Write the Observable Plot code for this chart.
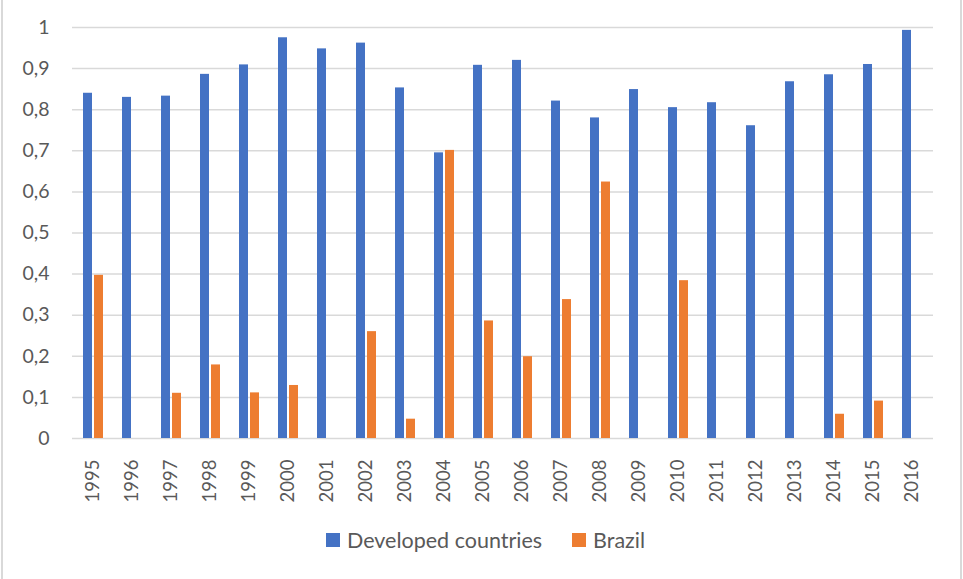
<!DOCTYPE html>
<html>
<head>
<meta charset="utf-8">
<script src="https://cdn.jsdelivr.net/npm/d3@7"></script>
<script src="https://cdn.jsdelivr.net/npm/@observablehq/plot@0.6"></script>
<style>
  html, body { margin: 0; padding: 0; background: #fff; }
  #frame {
    position: relative;
    width: 963px; height: 579px; box-sizing: border-box;
    overflow: hidden;
  }
  #frame::before, #frame::after {
    content: ""; position: absolute; top: 0; bottom: 0; width: 2px; background: #d9d9d9;
  }
  #frame::before { left: 1px; }
  #frame::after { left: 960px; }
  #chart svg { display: block; }
  #legend {
    display: flex; justify-content: center; align-items: center;
    font-family: Lato, "Open Sans", sans-serif; font-size: 21.5px; color: #595959;
    margin-top: 22px; padding-left: 8px;
  }
  #legend .item { display: flex; align-items: center; margin: 0 15px; }
  #legend .sw { width: 14px; height: 14px; margin-right: 7px; }
</style>
</head>
<body>
<div id="frame">
  <div id="chart"></div>
  <div id="legend"></div>
</div>
<script>
// Years on the category axis
const years = [1995, 1996, 1997, 1998, 1999, 2000, 2001, 2002, 2003, 2004, 2005,
               2006, 2007, 2008, 2009, 2010, 2011, 2012, 2013, 2014, 2015, 2016];

// Series values (null = no bar that year)
const developed = [0.84, 0.83, 0.833, 0.886, 0.909, 0.975, 0.948, 0.962, 0.853, 0.695, 0.908,
                   0.92, 0.821, 0.78, 0.849, 0.805, 0.817, 0.761, 0.868, 0.885, 0.91, 0.993];
const brazil = [0.397, null, 0.11, 0.179, 0.111, 0.129, null, 0.26, 0.047, 0.701, 0.286,
                0.199, 0.338, 0.624, null, 0.384, null, null, null, 0.059, 0.091, null];

const seriesNames = ["Developed countries", "Brazil"];
const seriesColors = ["#4472C4", "#ED7D31"];
const yTicks = [0, 0.1, 0.2, 0.3, 0.4, 0.5, 0.6, 0.7, 0.8, 0.9, 1];

const devRows = years.map((yr, i) => ({year: yr, value: developed[i]})).filter(d => d.value != null);
const brRows = years.map((yr, i) => ({year: yr, value: brazil[i]})).filter(d => d.value != null);

const fmt = d => String(d).replace(".", ",");
const font = "Lato, 'Open Sans', sans-serif";

const chart = Plot.plot({
  width: 963,
  height: 505,
  marginLeft: 72,
  marginRight: 30,
  marginTop: 27,
  marginBottom: 67,
  style: {fontFamily: font, fontSize: "19.5px", color: "#595959", background: "transparent"},
  x: {domain: years, paddingInner: 0.48, paddingOuter: 0.24, label: null},
  y: {domain: [0, 1], label: null},
  marks: [
    Plot.gridY(yTicks, {stroke: "#d9d9d9", strokeOpacity: 1, strokeWidth: 1.5}),
    // side-by-side bars inside each year band
    Plot.barY(devRows, {x: "year", y: "value", fill: seriesColors[0], insetRight: 11}),
    Plot.barY(brRows, {x: "year", y: "value", fill: seriesColors[1], insetLeft: 11}),
    Plot.axisY(yTicks, {tickFormat: fmt, tickSize: 0, tickPadding: 23, label: null}),
    Plot.axisX({tickFormat: d => `${d}`, tickSize: 0, tickPadding: 21, tickRotate: -90,
                fontSize: 18.5, label: null})
  ]
});
document.getElementById("chart").appendChild(chart);

// Legend
const legend = document.getElementById("legend");
seriesNames.forEach((name, i) => {
  const item = document.createElement("div");
  item.className = "item";
  const sw = document.createElement("span");
  sw.className = "sw";
  sw.style.background = seriesColors[i];
  const label = document.createElement("span");
  label.textContent = name;
  item.appendChild(sw);
  item.appendChild(label);
  legend.appendChild(item);
});
</script>
</body>
</html>
